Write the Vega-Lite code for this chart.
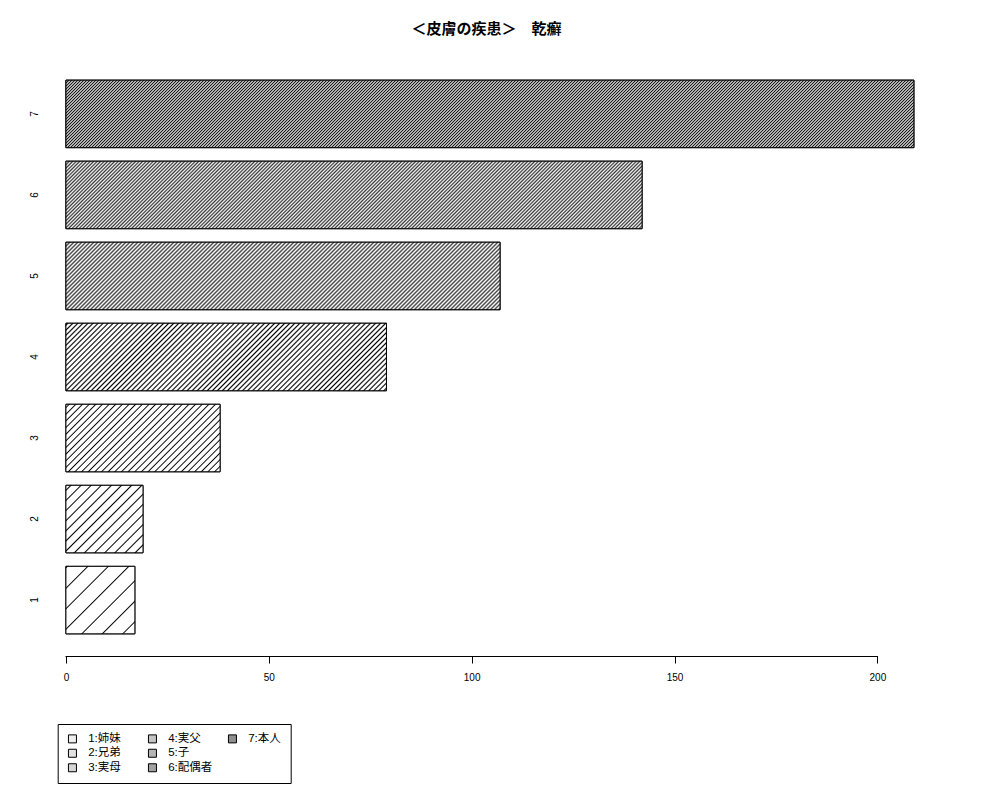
{
  "$schema": "https://vega.github.io/schema/vega-lite/v6.json",
  "autosize": {"type": "none"},
  "padding": {"left": 44, "top": 58, "right": 52, "bottom": 144},
  "width": 904,
  "height": 598,
  "background": "white",
  "title": {
    "text": "＜皮膚の疾患＞　乾癬",
    "font": "Noto Sans CJK JP",
    "fontSize": 15,
    "fontWeight": "bold",
    "color": "black",
    "anchor": "middle",
    "dx": -9.5,
    "offset": 21.5
  },
  "data": {
    "values": [
      {"n": 1, "label": "1:姉妹", "v": 17},
      {"n": 2, "label": "2:兄弟", "v": 19},
      {"n": 3, "label": "3:実母", "v": 38},
      {"n": 4, "label": "4:実父", "v": 79},
      {"n": 5, "label": "5:子", "v": 107},
      {"n": 6, "label": "6:配偶者", "v": 142},
      {"n": 7, "label": "7:本人", "v": 209}
    ]
  },
  "encoding": {
    "y": {
      "field": "n",
      "type": "ordinal",
      "sort": "descending",
      "scale": {"paddingInner": 0.1667, "paddingOuter": 0.2733},
      "axis": {
        "title": null,
        "domain": false,
        "ticks": false,
        "tickSize": 0,
        "grid": false,
        "labelAngle": -90,
        "labelAlign": "center",
        "labelBaseline": "middle",
        "labelPadding": 9.5,
        "labelFont": "Liberation Sans",
        "labelFontSize": 10,
        "labelColor": "black"
      }
    },
    "x": {
      "field": "v",
      "type": "quantitative",
      "scale": {"domain": [-5.4, 217.4], "nice": false, "zero": false},
      "axis": {
        "title": null,
        "values": [0, 50, 100, 150, 200],
        "domain": false,
        "grid": false,
        "tickSize": 7,
        "tickColor": "black",
        "tickWidth": 1,
        "labelFlush": false,
        "labelFont": "Liberation Sans",
        "labelFontSize": 10,
        "labelColor": "black",
        "labelPadding": 9.5
      }
    }
  },
  "layer": [
    {
      "mark": {"type": "bar", "strokeWidth": 1},
      "encoding": {
        "fill": {
          "field": "label",
          "type": "nominal",
          "scale": {
            "domain": ["1:姉妹", "2:兄弟", "3:実母", "4:実父", "5:子", "6:配偶者", "7:本人", " "],
            "range": ["#eeeeee", "#e2e2e2", "#d6d6d6", "#c4c4c4", "#b4b4b4", "#a2a2a2", "#8e8e8e", "transparent"]
          },
          "legend": {"title": null, "orient": "none", "legendX": 13.7, "legendY": 666, "direction": "vertical", "columns": 3, "gridAlign": "all", "columnPadding": 13, "rowPadding": 1.5, "padding": 9, "strokeColor": "black", "symbolType": "square", "symbolSize": 64, "symbolStrokeWidth": 1, "labelFont": "Liberation Sans, Noto Sans CJK JP", "labelFontSize": 11.5, "labelColor": "black", "labelOffset": 10, "labelLimit": 0}
        },
        "stroke": {
          "field": "label",
          "type": "nominal",
          "scale": {
            "domain": ["1:姉妹", "2:兄弟", "3:実母", "4:実父", "5:子", "6:配偶者", "7:本人", " "],
            "range": ["black", "black", "black", "black", "black", "black", "black", "transparent"]
          },
          "legend": {"title": null, "orient": "none", "legendX": 13.7, "legendY": 666, "direction": "vertical", "columns": 3, "gridAlign": "all", "columnPadding": 13, "rowPadding": 1.5, "padding": 9, "strokeColor": "black", "symbolType": "square", "symbolSize": 64, "symbolStrokeWidth": 1, "labelFont": "Liberation Sans, Noto Sans CJK JP", "labelFontSize": 11.5, "labelColor": "black", "labelOffset": 10, "labelLimit": 0}
        }
      }
    },
    {
      "transform": [{"filter": "datum.n == 1"}],
      "mark": {"type": "bar", "stroke": "black", "strokeWidth": 1, "fill": {"gradient": "linear", "x1": 0, "y1": 0, "x2": 1.0106, "y2": 0.9892, "stops": [
        {"offset":0.001,"color":"#fff"},{"offset":0.011,"color":"#000"},{"offset":0.021,"color":"#fff"},
        {"offset":0.151,"color":"#fff"},{"offset":0.161,"color":"#000"},{"offset":0.171,"color":"#fff"},
        {"offset":0.301,"color":"#fff"},{"offset":0.311,"color":"#000"},{"offset":0.321,"color":"#fff"},
        {"offset":0.451,"color":"#fff"},{"offset":0.461,"color":"#000"},{"offset":0.471,"color":"#fff"},
        {"offset":0.601,"color":"#fff"},{"offset":0.611,"color":"#000"},{"offset":0.621,"color":"#fff"},
        {"offset":0.751,"color":"#fff"},{"offset":0.761,"color":"#000"},{"offset":0.771,"color":"#fff"},
        {"offset":0.901,"color":"#fff"},{"offset":0.911,"color":"#000"},{"offset":0.921,"color":"#fff"}
      ]}}
    },
    {
      "transform": [{"filter": "datum.n == 2"}],
      "mark": {"type": "bar", "stroke": "black", "strokeWidth": 1, "fill": {"gradient": "linear", "x1": 0, "y1": 0, "x2": 1.0615, "y2": 0.9298, "stops": [
        {"offset":0.025,"color":"#fff"},{"offset":0.035,"color":"#000"},{"offset":0.045,"color":"#fff"},
        {"offset":0.095,"color":"#fff"},{"offset":0.105,"color":"#000"},{"offset":0.115,"color":"#fff"},
        {"offset":0.165,"color":"#fff"},{"offset":0.175,"color":"#000"},{"offset":0.185,"color":"#fff"},
        {"offset":0.235,"color":"#fff"},{"offset":0.245,"color":"#000"},{"offset":0.255,"color":"#fff"},
        {"offset":0.305,"color":"#fff"},{"offset":0.315,"color":"#000"},{"offset":0.325,"color":"#fff"},
        {"offset":0.375,"color":"#fff"},{"offset":0.385,"color":"#000"},{"offset":0.395,"color":"#fff"},
        {"offset":0.445,"color":"#fff"},{"offset":0.455,"color":"#000"},{"offset":0.465,"color":"#fff"},
        {"offset":0.515,"color":"#fff"},{"offset":0.525,"color":"#000"},{"offset":0.535,"color":"#fff"},
        {"offset":0.585,"color":"#fff"},{"offset":0.595,"color":"#000"},{"offset":0.605,"color":"#fff"},
        {"offset":0.655,"color":"#fff"},{"offset":0.665,"color":"#000"},{"offset":0.675,"color":"#fff"},
        {"offset":0.725,"color":"#fff"},{"offset":0.735,"color":"#000"},{"offset":0.745,"color":"#fff"},
        {"offset":0.795,"color":"#fff"},{"offset":0.805,"color":"#000"},{"offset":0.815,"color":"#fff"},
        {"offset":0.865,"color":"#fff"},{"offset":0.875,"color":"#000"},{"offset":0.885,"color":"#fff"},
        {"offset":0.935,"color":"#fff"},{"offset":0.945,"color":"#000"},{"offset":0.955,"color":"#fff"}
      ]}}
    },
    {
      "transform": [{"filter": "datum.n == 3"}],
      "mark": {"type": "bar", "stroke": "black", "strokeWidth": 1, "fill": {"gradient": "linear", "x1": 0, "y1": 0, "x2": 1.2065, "y2": 0.5284, "stops": [
        {"offset":0.009,"color":"#fff"},{"offset":0.015,"color":"#000"},{"offset":0.021,"color":"#fff"},
        {"offset":0.039,"color":"#fff"},{"offset":0.045,"color":"#000"},{"offset":0.051,"color":"#fff"},
        {"offset":0.069,"color":"#fff"},{"offset":0.075,"color":"#000"},{"offset":0.081,"color":"#fff"},
        {"offset":0.099,"color":"#fff"},{"offset":0.105,"color":"#000"},{"offset":0.111,"color":"#fff"},
        {"offset":0.129,"color":"#fff"},{"offset":0.135,"color":"#000"},{"offset":0.141,"color":"#fff"},
        {"offset":0.159,"color":"#fff"},{"offset":0.165,"color":"#000"},{"offset":0.171,"color":"#fff"},
        {"offset":0.189,"color":"#fff"},{"offset":0.195,"color":"#000"},{"offset":0.201,"color":"#fff"},
        {"offset":0.219,"color":"#fff"},{"offset":0.225,"color":"#000"},{"offset":0.231,"color":"#fff"},
        {"offset":0.249,"color":"#fff"},{"offset":0.255,"color":"#000"},{"offset":0.261,"color":"#fff"},
        {"offset":0.279,"color":"#fff"},{"offset":0.285,"color":"#000"},{"offset":0.291,"color":"#fff"},
        {"offset":0.309,"color":"#fff"},{"offset":0.315,"color":"#000"},{"offset":0.321,"color":"#fff"},
        {"offset":0.339,"color":"#fff"},{"offset":0.345,"color":"#000"},{"offset":0.351,"color":"#fff"},
        {"offset":0.369,"color":"#fff"},{"offset":0.375,"color":"#000"},{"offset":0.381,"color":"#fff"},
        {"offset":0.399,"color":"#fff"},{"offset":0.405,"color":"#000"},{"offset":0.411,"color":"#fff"},
        {"offset":0.429,"color":"#fff"},{"offset":0.435,"color":"#000"},{"offset":0.441,"color":"#fff"},
        {"offset":0.459,"color":"#fff"},{"offset":0.465,"color":"#000"},{"offset":0.471,"color":"#fff"},
        {"offset":0.489,"color":"#fff"},{"offset":0.495,"color":"#000"},{"offset":0.501,"color":"#fff"},
        {"offset":0.519,"color":"#fff"},{"offset":0.525,"color":"#000"},{"offset":0.531,"color":"#fff"},
        {"offset":0.549,"color":"#fff"},{"offset":0.555,"color":"#000"},{"offset":0.561,"color":"#fff"},
        {"offset":0.579,"color":"#fff"},{"offset":0.585,"color":"#000"},{"offset":0.591,"color":"#fff"},
        {"offset":0.609,"color":"#fff"},{"offset":0.615,"color":"#000"},{"offset":0.621,"color":"#fff"},
        {"offset":0.639,"color":"#fff"},{"offset":0.645,"color":"#000"},{"offset":0.651,"color":"#fff"},
        {"offset":0.669,"color":"#fff"},{"offset":0.675,"color":"#000"},{"offset":0.681,"color":"#fff"},
        {"offset":0.699,"color":"#fff"},{"offset":0.705,"color":"#000"},{"offset":0.711,"color":"#fff"},
        {"offset":0.729,"color":"#fff"},{"offset":0.735,"color":"#000"},{"offset":0.741,"color":"#fff"},
        {"offset":0.759,"color":"#fff"},{"offset":0.765,"color":"#000"},{"offset":0.771,"color":"#fff"},
        {"offset":0.789,"color":"#fff"},{"offset":0.795,"color":"#000"},{"offset":0.801,"color":"#fff"},
        {"offset":0.819,"color":"#fff"},{"offset":0.825,"color":"#000"},{"offset":0.831,"color":"#fff"},
        {"offset":0.849,"color":"#fff"},{"offset":0.855,"color":"#000"},{"offset":0.861,"color":"#fff"},
        {"offset":0.879,"color":"#fff"},{"offset":0.885,"color":"#000"},{"offset":0.891,"color":"#fff"},
        {"offset":0.909,"color":"#fff"},{"offset":0.915,"color":"#000"},{"offset":0.921,"color":"#fff"},
        {"offset":0.939,"color":"#fff"},{"offset":0.945,"color":"#000"},{"offset":0.951,"color":"#fff"},
        {"offset":0.969,"color":"#fff"},{"offset":0.975,"color":"#000"},{"offset":0.981,"color":"#fff"}
      ]}}
    },
    {
      "transform": [{"filter": "datum.n == 4"}],
      "mark": {"type": "bar", "stroke": "black", "strokeWidth": 1, "fill": {"gradient": "linear", "x1": 0, "y1": 0, "x2": 1.1592, "y2": 0.2442, "stops": [
        {"offset":0.001,"color":"#fff"},{"offset":0.005,"color":"#000"},{"offset":0.009,"color":"#fff"},
        {"offset":0.014,"color":"#fff"},{"offset":0.018,"color":"#000"},{"offset":0.022,"color":"#fff"},
        {"offset":0.027,"color":"#fff"},{"offset":0.031,"color":"#000"},{"offset":0.035,"color":"#fff"},
        {"offset":0.040,"color":"#fff"},{"offset":0.044,"color":"#000"},{"offset":0.048,"color":"#fff"},
        {"offset":0.053,"color":"#fff"},{"offset":0.057,"color":"#000"},{"offset":0.061,"color":"#fff"},
        {"offset":0.066,"color":"#fff"},{"offset":0.070,"color":"#000"},{"offset":0.074,"color":"#fff"},
        {"offset":0.079,"color":"#fff"},{"offset":0.083,"color":"#000"},{"offset":0.087,"color":"#fff"},
        {"offset":0.092,"color":"#fff"},{"offset":0.096,"color":"#000"},{"offset":0.100,"color":"#fff"},
        {"offset":0.105,"color":"#fff"},{"offset":0.109,"color":"#000"},{"offset":0.113,"color":"#fff"},
        {"offset":0.118,"color":"#fff"},{"offset":0.122,"color":"#000"},{"offset":0.126,"color":"#fff"},
        {"offset":0.131,"color":"#fff"},{"offset":0.135,"color":"#000"},{"offset":0.139,"color":"#fff"},
        {"offset":0.144,"color":"#fff"},{"offset":0.148,"color":"#000"},{"offset":0.152,"color":"#fff"},
        {"offset":0.157,"color":"#fff"},{"offset":0.161,"color":"#000"},{"offset":0.165,"color":"#fff"},
        {"offset":0.170,"color":"#fff"},{"offset":0.174,"color":"#000"},{"offset":0.178,"color":"#fff"},
        {"offset":0.183,"color":"#fff"},{"offset":0.187,"color":"#000"},{"offset":0.191,"color":"#fff"},
        {"offset":0.196,"color":"#fff"},{"offset":0.200,"color":"#000"},{"offset":0.204,"color":"#fff"},
        {"offset":0.209,"color":"#fff"},{"offset":0.213,"color":"#000"},{"offset":0.217,"color":"#fff"},
        {"offset":0.222,"color":"#fff"},{"offset":0.226,"color":"#000"},{"offset":0.230,"color":"#fff"},
        {"offset":0.235,"color":"#fff"},{"offset":0.239,"color":"#000"},{"offset":0.243,"color":"#fff"},
        {"offset":0.248,"color":"#fff"},{"offset":0.252,"color":"#000"},{"offset":0.256,"color":"#fff"},
        {"offset":0.261,"color":"#fff"},{"offset":0.265,"color":"#000"},{"offset":0.269,"color":"#fff"},
        {"offset":0.274,"color":"#fff"},{"offset":0.278,"color":"#000"},{"offset":0.282,"color":"#fff"},
        {"offset":0.287,"color":"#fff"},{"offset":0.291,"color":"#000"},{"offset":0.295,"color":"#fff"},
        {"offset":0.300,"color":"#fff"},{"offset":0.304,"color":"#000"},{"offset":0.308,"color":"#fff"},
        {"offset":0.313,"color":"#fff"},{"offset":0.317,"color":"#000"},{"offset":0.321,"color":"#fff"},
        {"offset":0.326,"color":"#fff"},{"offset":0.330,"color":"#000"},{"offset":0.334,"color":"#fff"},
        {"offset":0.339,"color":"#fff"},{"offset":0.343,"color":"#000"},{"offset":0.347,"color":"#fff"},
        {"offset":0.352,"color":"#fff"},{"offset":0.356,"color":"#000"},{"offset":0.360,"color":"#fff"},
        {"offset":0.365,"color":"#fff"},{"offset":0.369,"color":"#000"},{"offset":0.373,"color":"#fff"},
        {"offset":0.378,"color":"#fff"},{"offset":0.382,"color":"#000"},{"offset":0.386,"color":"#fff"},
        {"offset":0.391,"color":"#fff"},{"offset":0.395,"color":"#000"},{"offset":0.399,"color":"#fff"},
        {"offset":0.404,"color":"#fff"},{"offset":0.408,"color":"#000"},{"offset":0.412,"color":"#fff"},
        {"offset":0.417,"color":"#fff"},{"offset":0.421,"color":"#000"},{"offset":0.425,"color":"#fff"},
        {"offset":0.430,"color":"#fff"},{"offset":0.434,"color":"#000"},{"offset":0.438,"color":"#fff"},
        {"offset":0.443,"color":"#fff"},{"offset":0.447,"color":"#000"},{"offset":0.451,"color":"#fff"},
        {"offset":0.456,"color":"#fff"},{"offset":0.460,"color":"#000"},{"offset":0.464,"color":"#fff"},
        {"offset":0.469,"color":"#fff"},{"offset":0.473,"color":"#000"},{"offset":0.477,"color":"#fff"},
        {"offset":0.482,"color":"#fff"},{"offset":0.486,"color":"#000"},{"offset":0.490,"color":"#fff"},
        {"offset":0.495,"color":"#fff"},{"offset":0.499,"color":"#000"},{"offset":0.503,"color":"#fff"},
        {"offset":0.508,"color":"#fff"},{"offset":0.512,"color":"#000"},{"offset":0.516,"color":"#fff"},
        {"offset":0.521,"color":"#fff"},{"offset":0.525,"color":"#000"},{"offset":0.529,"color":"#fff"},
        {"offset":0.534,"color":"#fff"},{"offset":0.538,"color":"#000"},{"offset":0.542,"color":"#fff"},
        {"offset":0.547,"color":"#fff"},{"offset":0.551,"color":"#000"},{"offset":0.555,"color":"#fff"},
        {"offset":0.560,"color":"#fff"},{"offset":0.564,"color":"#000"},{"offset":0.568,"color":"#fff"},
        {"offset":0.573,"color":"#fff"},{"offset":0.577,"color":"#000"},{"offset":0.581,"color":"#fff"},
        {"offset":0.586,"color":"#fff"},{"offset":0.590,"color":"#000"},{"offset":0.594,"color":"#fff"},
        {"offset":0.599,"color":"#fff"},{"offset":0.603,"color":"#000"},{"offset":0.607,"color":"#fff"},
        {"offset":0.612,"color":"#fff"},{"offset":0.616,"color":"#000"},{"offset":0.620,"color":"#fff"},
        {"offset":0.625,"color":"#fff"},{"offset":0.629,"color":"#000"},{"offset":0.633,"color":"#fff"},
        {"offset":0.638,"color":"#fff"},{"offset":0.642,"color":"#000"},{"offset":0.646,"color":"#fff"},
        {"offset":0.651,"color":"#fff"},{"offset":0.655,"color":"#000"},{"offset":0.659,"color":"#fff"},
        {"offset":0.664,"color":"#fff"},{"offset":0.668,"color":"#000"},{"offset":0.672,"color":"#fff"},
        {"offset":0.677,"color":"#fff"},{"offset":0.681,"color":"#000"},{"offset":0.685,"color":"#fff"},
        {"offset":0.690,"color":"#fff"},{"offset":0.694,"color":"#000"},{"offset":0.698,"color":"#fff"},
        {"offset":0.703,"color":"#fff"},{"offset":0.707,"color":"#000"},{"offset":0.711,"color":"#fff"},
        {"offset":0.716,"color":"#fff"},{"offset":0.720,"color":"#000"},{"offset":0.724,"color":"#fff"},
        {"offset":0.729,"color":"#fff"},{"offset":0.733,"color":"#000"},{"offset":0.737,"color":"#fff"},
        {"offset":0.742,"color":"#fff"},{"offset":0.746,"color":"#000"},{"offset":0.750,"color":"#fff"},
        {"offset":0.755,"color":"#fff"},{"offset":0.759,"color":"#000"},{"offset":0.763,"color":"#fff"},
        {"offset":0.768,"color":"#fff"},{"offset":0.772,"color":"#000"},{"offset":0.776,"color":"#fff"},
        {"offset":0.781,"color":"#fff"},{"offset":0.785,"color":"#000"},{"offset":0.789,"color":"#fff"},
        {"offset":0.794,"color":"#fff"},{"offset":0.798,"color":"#000"},{"offset":0.802,"color":"#fff"},
        {"offset":0.807,"color":"#fff"},{"offset":0.811,"color":"#000"},{"offset":0.815,"color":"#fff"},
        {"offset":0.820,"color":"#fff"},{"offset":0.824,"color":"#000"},{"offset":0.828,"color":"#fff"},
        {"offset":0.833,"color":"#fff"},{"offset":0.837,"color":"#000"},{"offset":0.841,"color":"#fff"},
        {"offset":0.846,"color":"#fff"},{"offset":0.850,"color":"#000"},{"offset":0.854,"color":"#fff"},
        {"offset":0.859,"color":"#fff"},{"offset":0.863,"color":"#000"},{"offset":0.867,"color":"#fff"},
        {"offset":0.872,"color":"#fff"},{"offset":0.876,"color":"#000"},{"offset":0.880,"color":"#fff"},
        {"offset":0.885,"color":"#fff"},{"offset":0.889,"color":"#000"},{"offset":0.893,"color":"#fff"},
        {"offset":0.898,"color":"#fff"},{"offset":0.902,"color":"#000"},{"offset":0.906,"color":"#fff"},
        {"offset":0.911,"color":"#fff"},{"offset":0.915,"color":"#000"},{"offset":0.919,"color":"#fff"},
        {"offset":0.924,"color":"#fff"},{"offset":0.928,"color":"#000"},{"offset":0.932,"color":"#fff"},
        {"offset":0.937,"color":"#fff"},{"offset":0.941,"color":"#000"},{"offset":0.945,"color":"#fff"},
        {"offset":0.950,"color":"#fff"},{"offset":0.954,"color":"#000"},{"offset":0.958,"color":"#fff"},
        {"offset":0.963,"color":"#fff"},{"offset":0.967,"color":"#000"},{"offset":0.971,"color":"#fff"},
        {"offset":0.976,"color":"#fff"},{"offset":0.980,"color":"#000"},{"offset":0.984,"color":"#fff"},
        {"offset":0.989,"color":"#fff"},{"offset":0.993,"color":"#000"},{"offset":0.997,"color":"#fff"}
      ]}}
    },
    {
      "transform": [{"filter": "datum.n == 5"}],
      "mark": {"type": "bar", "stroke": "black", "strokeWidth": 1, "fill": {"gradient": "linear", "x1": 0, "y1": 0, "x2": 1.12448, "y2": 0.174894, "stops": [
        {"offset":0,"color":"#444"},{"offset":0.004,"color":"#fff"},{"offset":0.008,"color":"#444"},{"offset":0.012,"color":"#fff"},{"offset":0.016,"color":"#444"},{"offset":0.02,"color":"#fff"},{"offset":0.024,"color":"#444"},{"offset":0.028,"color":"#fff"},{"offset":0.032,"color":"#444"},{"offset":0.036,"color":"#fff"},
        {"offset":0.04,"color":"#444"},{"offset":0.044,"color":"#fff"},{"offset":0.048,"color":"#444"},{"offset":0.052,"color":"#fff"},{"offset":0.056,"color":"#444"},{"offset":0.06,"color":"#fff"},{"offset":0.064,"color":"#444"},{"offset":0.068,"color":"#fff"},{"offset":0.072,"color":"#444"},{"offset":0.076,"color":"#fff"},
        {"offset":0.08,"color":"#444"},{"offset":0.084,"color":"#fff"},{"offset":0.088,"color":"#444"},{"offset":0.092,"color":"#fff"},{"offset":0.096,"color":"#444"},{"offset":0.1,"color":"#fff"},{"offset":0.104,"color":"#444"},{"offset":0.108,"color":"#fff"},{"offset":0.112,"color":"#444"},{"offset":0.116,"color":"#fff"},
        {"offset":0.12,"color":"#444"},{"offset":0.124,"color":"#fff"},{"offset":0.128,"color":"#444"},{"offset":0.132,"color":"#fff"},{"offset":0.136,"color":"#444"},{"offset":0.14,"color":"#fff"},{"offset":0.144,"color":"#444"},{"offset":0.148,"color":"#fff"},{"offset":0.152,"color":"#444"},{"offset":0.156,"color":"#fff"},
        {"offset":0.16,"color":"#444"},{"offset":0.164,"color":"#fff"},{"offset":0.168,"color":"#444"},{"offset":0.172,"color":"#fff"},{"offset":0.176,"color":"#444"},{"offset":0.18,"color":"#fff"},{"offset":0.184,"color":"#444"},{"offset":0.188,"color":"#fff"},{"offset":0.192,"color":"#444"},{"offset":0.196,"color":"#fff"},
        {"offset":0.2,"color":"#444"},{"offset":0.204,"color":"#fff"},{"offset":0.208,"color":"#444"},{"offset":0.212,"color":"#fff"},{"offset":0.216,"color":"#444"},{"offset":0.22,"color":"#fff"},{"offset":0.224,"color":"#444"},{"offset":0.228,"color":"#fff"},{"offset":0.232,"color":"#444"},{"offset":0.236,"color":"#fff"},
        {"offset":0.24,"color":"#444"},{"offset":0.244,"color":"#fff"},{"offset":0.248,"color":"#444"},{"offset":0.252,"color":"#fff"},{"offset":0.256,"color":"#444"},{"offset":0.26,"color":"#fff"},{"offset":0.264,"color":"#444"},{"offset":0.268,"color":"#fff"},{"offset":0.272,"color":"#444"},{"offset":0.276,"color":"#fff"},
        {"offset":0.28,"color":"#444"},{"offset":0.284,"color":"#fff"},{"offset":0.288,"color":"#444"},{"offset":0.292,"color":"#fff"},{"offset":0.296,"color":"#444"},{"offset":0.3,"color":"#fff"},{"offset":0.304,"color":"#444"},{"offset":0.308,"color":"#fff"},{"offset":0.312,"color":"#444"},{"offset":0.316,"color":"#fff"},
        {"offset":0.32,"color":"#444"},{"offset":0.324,"color":"#fff"},{"offset":0.328,"color":"#444"},{"offset":0.332,"color":"#fff"},{"offset":0.336,"color":"#444"},{"offset":0.34,"color":"#fff"},{"offset":0.344,"color":"#444"},{"offset":0.348,"color":"#fff"},{"offset":0.352,"color":"#444"},{"offset":0.356,"color":"#fff"},
        {"offset":0.36,"color":"#444"},{"offset":0.364,"color":"#fff"},{"offset":0.368,"color":"#444"},{"offset":0.372,"color":"#fff"},{"offset":0.376,"color":"#444"},{"offset":0.38,"color":"#fff"},{"offset":0.384,"color":"#444"},{"offset":0.388,"color":"#fff"},{"offset":0.392,"color":"#444"},{"offset":0.396,"color":"#fff"},
        {"offset":0.4,"color":"#444"},{"offset":0.404,"color":"#fff"},{"offset":0.408,"color":"#444"},{"offset":0.412,"color":"#fff"},{"offset":0.416,"color":"#444"},{"offset":0.42,"color":"#fff"},{"offset":0.424,"color":"#444"},{"offset":0.428,"color":"#fff"},{"offset":0.432,"color":"#444"},{"offset":0.436,"color":"#fff"},
        {"offset":0.44,"color":"#444"},{"offset":0.444,"color":"#fff"},{"offset":0.448,"color":"#444"},{"offset":0.452,"color":"#fff"},{"offset":0.456,"color":"#444"},{"offset":0.46,"color":"#fff"},{"offset":0.464,"color":"#444"},{"offset":0.468,"color":"#fff"},{"offset":0.472,"color":"#444"},{"offset":0.476,"color":"#fff"},
        {"offset":0.48,"color":"#444"},{"offset":0.484,"color":"#fff"},{"offset":0.488,"color":"#444"},{"offset":0.492,"color":"#fff"},{"offset":0.496,"color":"#444"},{"offset":0.5,"color":"#fff"},{"offset":0.504,"color":"#444"},{"offset":0.508,"color":"#fff"},{"offset":0.512,"color":"#444"},{"offset":0.516,"color":"#fff"},
        {"offset":0.52,"color":"#444"},{"offset":0.524,"color":"#fff"},{"offset":0.528,"color":"#444"},{"offset":0.532,"color":"#fff"},{"offset":0.536,"color":"#444"},{"offset":0.54,"color":"#fff"},{"offset":0.544,"color":"#444"},{"offset":0.548,"color":"#fff"},{"offset":0.552,"color":"#444"},{"offset":0.556,"color":"#fff"},
        {"offset":0.56,"color":"#444"},{"offset":0.564,"color":"#fff"},{"offset":0.568,"color":"#444"},{"offset":0.572,"color":"#fff"},{"offset":0.576,"color":"#444"},{"offset":0.58,"color":"#fff"},{"offset":0.584,"color":"#444"},{"offset":0.588,"color":"#fff"},{"offset":0.592,"color":"#444"},{"offset":0.596,"color":"#fff"},
        {"offset":0.6,"color":"#444"},{"offset":0.604,"color":"#fff"},{"offset":0.608,"color":"#444"},{"offset":0.612,"color":"#fff"},{"offset":0.616,"color":"#444"},{"offset":0.62,"color":"#fff"},{"offset":0.624,"color":"#444"},{"offset":0.628,"color":"#fff"},{"offset":0.632,"color":"#444"},{"offset":0.636,"color":"#fff"},
        {"offset":0.64,"color":"#444"},{"offset":0.644,"color":"#fff"},{"offset":0.648,"color":"#444"},{"offset":0.652,"color":"#fff"},{"offset":0.656,"color":"#444"},{"offset":0.66,"color":"#fff"},{"offset":0.664,"color":"#444"},{"offset":0.668,"color":"#fff"},{"offset":0.672,"color":"#444"},{"offset":0.676,"color":"#fff"},
        {"offset":0.68,"color":"#444"},{"offset":0.684,"color":"#fff"},{"offset":0.688,"color":"#444"},{"offset":0.692,"color":"#fff"},{"offset":0.696,"color":"#444"},{"offset":0.7,"color":"#fff"},{"offset":0.704,"color":"#444"},{"offset":0.708,"color":"#fff"},{"offset":0.712,"color":"#444"},{"offset":0.716,"color":"#fff"},
        {"offset":0.72,"color":"#444"},{"offset":0.724,"color":"#fff"},{"offset":0.728,"color":"#444"},{"offset":0.732,"color":"#fff"},{"offset":0.736,"color":"#444"},{"offset":0.74,"color":"#fff"},{"offset":0.744,"color":"#444"},{"offset":0.748,"color":"#fff"},{"offset":0.752,"color":"#444"},{"offset":0.756,"color":"#fff"},
        {"offset":0.76,"color":"#444"},{"offset":0.764,"color":"#fff"},{"offset":0.768,"color":"#444"},{"offset":0.772,"color":"#fff"},{"offset":0.776,"color":"#444"},{"offset":0.78,"color":"#fff"},{"offset":0.784,"color":"#444"},{"offset":0.788,"color":"#fff"},{"offset":0.792,"color":"#444"},{"offset":0.796,"color":"#fff"},
        {"offset":0.8,"color":"#444"},{"offset":0.804,"color":"#fff"},{"offset":0.808,"color":"#444"},{"offset":0.812,"color":"#fff"},{"offset":0.816,"color":"#444"},{"offset":0.82,"color":"#fff"},{"offset":0.824,"color":"#444"},{"offset":0.828,"color":"#fff"},{"offset":0.832,"color":"#444"},{"offset":0.836,"color":"#fff"},
        {"offset":0.84,"color":"#444"},{"offset":0.844,"color":"#fff"},{"offset":0.848,"color":"#444"},{"offset":0.852,"color":"#fff"},{"offset":0.856,"color":"#444"},{"offset":0.86,"color":"#fff"},{"offset":0.864,"color":"#444"},{"offset":0.868,"color":"#fff"},{"offset":0.872,"color":"#444"},{"offset":0.876,"color":"#fff"},
        {"offset":0.88,"color":"#444"},{"offset":0.884,"color":"#fff"},{"offset":0.888,"color":"#444"},{"offset":0.892,"color":"#fff"},{"offset":0.896,"color":"#444"},{"offset":0.9,"color":"#fff"},{"offset":0.904,"color":"#444"},{"offset":0.908,"color":"#fff"},{"offset":0.912,"color":"#444"},{"offset":0.916,"color":"#fff"},
        {"offset":0.92,"color":"#444"},{"offset":0.924,"color":"#fff"},{"offset":0.928,"color":"#444"},{"offset":0.932,"color":"#fff"},{"offset":0.936,"color":"#444"},{"offset":0.94,"color":"#fff"},{"offset":0.944,"color":"#444"},{"offset":0.948,"color":"#fff"},{"offset":0.952,"color":"#444"},{"offset":0.956,"color":"#fff"},
        {"offset":0.96,"color":"#444"},{"offset":0.964,"color":"#fff"},{"offset":0.968,"color":"#444"},{"offset":0.972,"color":"#fff"},{"offset":0.976,"color":"#444"},{"offset":0.98,"color":"#fff"},{"offset":0.984,"color":"#444"},{"offset":0.988,"color":"#fff"},{"offset":0.992,"color":"#444"},{"offset":0.996,"color":"#fff"},
        {"offset":1,"color":"#444"}
      ]}}
    },
    {
      "transform": [{"filter": "datum.n == 6"}],
      "mark": {"type": "bar", "stroke": "black", "strokeWidth": 1, "fill": {"gradient": "linear", "x1": 0, "y1": 0, "x2": 1.19848, "y2": 0.14046, "stops": [
        {"offset":0,"color":"#333"},{"offset":0.0025,"color":"#fff"},{"offset":0.005,"color":"#333"},{"offset":0.0075,"color":"#fff"},
        {"offset":0.01,"color":"#333"},{"offset":0.0125,"color":"#fff"},{"offset":0.015,"color":"#333"},{"offset":0.0175,"color":"#fff"},
        {"offset":0.02,"color":"#333"},{"offset":0.0225,"color":"#fff"},{"offset":0.025,"color":"#333"},{"offset":0.0275,"color":"#fff"},
        {"offset":0.03,"color":"#333"},{"offset":0.0325,"color":"#fff"},{"offset":0.035,"color":"#333"},{"offset":0.0375,"color":"#fff"},
        {"offset":0.04,"color":"#333"},{"offset":0.0425,"color":"#fff"},{"offset":0.045,"color":"#333"},{"offset":0.0475,"color":"#fff"},
        {"offset":0.05,"color":"#333"},{"offset":0.0525,"color":"#fff"},{"offset":0.055,"color":"#333"},{"offset":0.0575,"color":"#fff"},
        {"offset":0.06,"color":"#333"},{"offset":0.0625,"color":"#fff"},{"offset":0.065,"color":"#333"},{"offset":0.0675,"color":"#fff"},
        {"offset":0.07,"color":"#333"},{"offset":0.0725,"color":"#fff"},{"offset":0.075,"color":"#333"},{"offset":0.0775,"color":"#fff"},
        {"offset":0.08,"color":"#333"},{"offset":0.0825,"color":"#fff"},{"offset":0.085,"color":"#333"},{"offset":0.0875,"color":"#fff"},
        {"offset":0.09,"color":"#333"},{"offset":0.0925,"color":"#fff"},{"offset":0.095,"color":"#333"},{"offset":0.0975,"color":"#fff"},
        {"offset":0.1,"color":"#333"},{"offset":0.1025,"color":"#fff"},{"offset":0.105,"color":"#333"},{"offset":0.1075,"color":"#fff"},
        {"offset":0.11,"color":"#333"},{"offset":0.1125,"color":"#fff"},{"offset":0.115,"color":"#333"},{"offset":0.1175,"color":"#fff"},
        {"offset":0.12,"color":"#333"},{"offset":0.1225,"color":"#fff"},{"offset":0.125,"color":"#333"},{"offset":0.1275,"color":"#fff"},
        {"offset":0.13,"color":"#333"},{"offset":0.1325,"color":"#fff"},{"offset":0.135,"color":"#333"},{"offset":0.1375,"color":"#fff"},
        {"offset":0.14,"color":"#333"},{"offset":0.1425,"color":"#fff"},{"offset":0.145,"color":"#333"},{"offset":0.1475,"color":"#fff"},
        {"offset":0.15,"color":"#333"},{"offset":0.1525,"color":"#fff"},{"offset":0.155,"color":"#333"},{"offset":0.1575,"color":"#fff"},
        {"offset":0.16,"color":"#333"},{"offset":0.1625,"color":"#fff"},{"offset":0.165,"color":"#333"},{"offset":0.1675,"color":"#fff"},
        {"offset":0.17,"color":"#333"},{"offset":0.1725,"color":"#fff"},{"offset":0.175,"color":"#333"},{"offset":0.1775,"color":"#fff"},
        {"offset":0.18,"color":"#333"},{"offset":0.1825,"color":"#fff"},{"offset":0.185,"color":"#333"},{"offset":0.1875,"color":"#fff"},
        {"offset":0.19,"color":"#333"},{"offset":0.1925,"color":"#fff"},{"offset":0.195,"color":"#333"},{"offset":0.1975,"color":"#fff"},
        {"offset":0.2,"color":"#333"},{"offset":0.2025,"color":"#fff"},{"offset":0.205,"color":"#333"},{"offset":0.2075,"color":"#fff"},
        {"offset":0.21,"color":"#333"},{"offset":0.2125,"color":"#fff"},{"offset":0.215,"color":"#333"},{"offset":0.2175,"color":"#fff"},
        {"offset":0.22,"color":"#333"},{"offset":0.2225,"color":"#fff"},{"offset":0.225,"color":"#333"},{"offset":0.2275,"color":"#fff"},
        {"offset":0.23,"color":"#333"},{"offset":0.2325,"color":"#fff"},{"offset":0.235,"color":"#333"},{"offset":0.2375,"color":"#fff"},
        {"offset":0.24,"color":"#333"},{"offset":0.2425,"color":"#fff"},{"offset":0.245,"color":"#333"},{"offset":0.2475,"color":"#fff"},
        {"offset":0.25,"color":"#333"},{"offset":0.2525,"color":"#fff"},{"offset":0.255,"color":"#333"},{"offset":0.2575,"color":"#fff"},
        {"offset":0.26,"color":"#333"},{"offset":0.2625,"color":"#fff"},{"offset":0.265,"color":"#333"},{"offset":0.2675,"color":"#fff"},
        {"offset":0.27,"color":"#333"},{"offset":0.2725,"color":"#fff"},{"offset":0.275,"color":"#333"},{"offset":0.2775,"color":"#fff"},
        {"offset":0.28,"color":"#333"},{"offset":0.2825,"color":"#fff"},{"offset":0.285,"color":"#333"},{"offset":0.2875,"color":"#fff"},
        {"offset":0.29,"color":"#333"},{"offset":0.2925,"color":"#fff"},{"offset":0.295,"color":"#333"},{"offset":0.2975,"color":"#fff"},
        {"offset":0.3,"color":"#333"},{"offset":0.3025,"color":"#fff"},{"offset":0.305,"color":"#333"},{"offset":0.3075,"color":"#fff"},
        {"offset":0.31,"color":"#333"},{"offset":0.3125,"color":"#fff"},{"offset":0.315,"color":"#333"},{"offset":0.3175,"color":"#fff"},
        {"offset":0.32,"color":"#333"},{"offset":0.3225,"color":"#fff"},{"offset":0.325,"color":"#333"},{"offset":0.3275,"color":"#fff"},
        {"offset":0.33,"color":"#333"},{"offset":0.3325,"color":"#fff"},{"offset":0.335,"color":"#333"},{"offset":0.3375,"color":"#fff"},
        {"offset":0.34,"color":"#333"},{"offset":0.3425,"color":"#fff"},{"offset":0.345,"color":"#333"},{"offset":0.3475,"color":"#fff"},
        {"offset":0.35,"color":"#333"},{"offset":0.3525,"color":"#fff"},{"offset":0.355,"color":"#333"},{"offset":0.3575,"color":"#fff"},
        {"offset":0.36,"color":"#333"},{"offset":0.3625,"color":"#fff"},{"offset":0.365,"color":"#333"},{"offset":0.3675,"color":"#fff"},
        {"offset":0.37,"color":"#333"},{"offset":0.3725,"color":"#fff"},{"offset":0.375,"color":"#333"},{"offset":0.3775,"color":"#fff"},
        {"offset":0.38,"color":"#333"},{"offset":0.3825,"color":"#fff"},{"offset":0.385,"color":"#333"},{"offset":0.3875,"color":"#fff"},
        {"offset":0.39,"color":"#333"},{"offset":0.3925,"color":"#fff"},{"offset":0.395,"color":"#333"},{"offset":0.3975,"color":"#fff"},
        {"offset":0.4,"color":"#333"},{"offset":0.4025,"color":"#fff"},{"offset":0.405,"color":"#333"},{"offset":0.4075,"color":"#fff"},
        {"offset":0.41,"color":"#333"},{"offset":0.4125,"color":"#fff"},{"offset":0.415,"color":"#333"},{"offset":0.4175,"color":"#fff"},
        {"offset":0.42,"color":"#333"},{"offset":0.4225,"color":"#fff"},{"offset":0.425,"color":"#333"},{"offset":0.4275,"color":"#fff"},
        {"offset":0.43,"color":"#333"},{"offset":0.4325,"color":"#fff"},{"offset":0.435,"color":"#333"},{"offset":0.4375,"color":"#fff"},
        {"offset":0.44,"color":"#333"},{"offset":0.4425,"color":"#fff"},{"offset":0.445,"color":"#333"},{"offset":0.4475,"color":"#fff"},
        {"offset":0.45,"color":"#333"},{"offset":0.4525,"color":"#fff"},{"offset":0.455,"color":"#333"},{"offset":0.4575,"color":"#fff"},
        {"offset":0.46,"color":"#333"},{"offset":0.4625,"color":"#fff"},{"offset":0.465,"color":"#333"},{"offset":0.4675,"color":"#fff"},
        {"offset":0.47,"color":"#333"},{"offset":0.4725,"color":"#fff"},{"offset":0.475,"color":"#333"},{"offset":0.4775,"color":"#fff"},
        {"offset":0.48,"color":"#333"},{"offset":0.4825,"color":"#fff"},{"offset":0.485,"color":"#333"},{"offset":0.4875,"color":"#fff"},
        {"offset":0.49,"color":"#333"},{"offset":0.4925,"color":"#fff"},{"offset":0.495,"color":"#333"},{"offset":0.4975,"color":"#fff"},
        {"offset":0.5,"color":"#333"},{"offset":0.5025,"color":"#fff"},{"offset":0.505,"color":"#333"},{"offset":0.5075,"color":"#fff"},
        {"offset":0.51,"color":"#333"},{"offset":0.5125,"color":"#fff"},{"offset":0.515,"color":"#333"},{"offset":0.5175,"color":"#fff"},
        {"offset":0.52,"color":"#333"},{"offset":0.5225,"color":"#fff"},{"offset":0.525,"color":"#333"},{"offset":0.5275,"color":"#fff"},
        {"offset":0.53,"color":"#333"},{"offset":0.5325,"color":"#fff"},{"offset":0.535,"color":"#333"},{"offset":0.5375,"color":"#fff"},
        {"offset":0.54,"color":"#333"},{"offset":0.5425,"color":"#fff"},{"offset":0.545,"color":"#333"},{"offset":0.5475,"color":"#fff"},
        {"offset":0.55,"color":"#333"},{"offset":0.5525,"color":"#fff"},{"offset":0.555,"color":"#333"},{"offset":0.5575,"color":"#fff"},
        {"offset":0.56,"color":"#333"},{"offset":0.5625,"color":"#fff"},{"offset":0.565,"color":"#333"},{"offset":0.5675,"color":"#fff"},
        {"offset":0.57,"color":"#333"},{"offset":0.5725,"color":"#fff"},{"offset":0.575,"color":"#333"},{"offset":0.5775,"color":"#fff"},
        {"offset":0.58,"color":"#333"},{"offset":0.5825,"color":"#fff"},{"offset":0.585,"color":"#333"},{"offset":0.5875,"color":"#fff"},
        {"offset":0.59,"color":"#333"},{"offset":0.5925,"color":"#fff"},{"offset":0.595,"color":"#333"},{"offset":0.5975,"color":"#fff"},
        {"offset":0.6,"color":"#333"},{"offset":0.6025,"color":"#fff"},{"offset":0.605,"color":"#333"},{"offset":0.6075,"color":"#fff"},
        {"offset":0.61,"color":"#333"},{"offset":0.6125,"color":"#fff"},{"offset":0.615,"color":"#333"},{"offset":0.6175,"color":"#fff"},
        {"offset":0.62,"color":"#333"},{"offset":0.6225,"color":"#fff"},{"offset":0.625,"color":"#333"},{"offset":0.6275,"color":"#fff"},
        {"offset":0.63,"color":"#333"},{"offset":0.6325,"color":"#fff"},{"offset":0.635,"color":"#333"},{"offset":0.6375,"color":"#fff"},
        {"offset":0.64,"color":"#333"},{"offset":0.6425,"color":"#fff"},{"offset":0.645,"color":"#333"},{"offset":0.6475,"color":"#fff"},
        {"offset":0.65,"color":"#333"},{"offset":0.6525,"color":"#fff"},{"offset":0.655,"color":"#333"},{"offset":0.6575,"color":"#fff"},
        {"offset":0.66,"color":"#333"},{"offset":0.6625,"color":"#fff"},{"offset":0.665,"color":"#333"},{"offset":0.6675,"color":"#fff"},
        {"offset":0.67,"color":"#333"},{"offset":0.6725,"color":"#fff"},{"offset":0.675,"color":"#333"},{"offset":0.6775,"color":"#fff"},
        {"offset":0.68,"color":"#333"},{"offset":0.6825,"color":"#fff"},{"offset":0.685,"color":"#333"},{"offset":0.6875,"color":"#fff"},
        {"offset":0.69,"color":"#333"},{"offset":0.6925,"color":"#fff"},{"offset":0.695,"color":"#333"},{"offset":0.6975,"color":"#fff"},
        {"offset":0.7,"color":"#333"},{"offset":0.7025,"color":"#fff"},{"offset":0.705,"color":"#333"},{"offset":0.7075,"color":"#fff"},
        {"offset":0.71,"color":"#333"},{"offset":0.7125,"color":"#fff"},{"offset":0.715,"color":"#333"},{"offset":0.7175,"color":"#fff"},
        {"offset":0.72,"color":"#333"},{"offset":0.7225,"color":"#fff"},{"offset":0.725,"color":"#333"},{"offset":0.7275,"color":"#fff"},
        {"offset":0.73,"color":"#333"},{"offset":0.7325,"color":"#fff"},{"offset":0.735,"color":"#333"},{"offset":0.7375,"color":"#fff"},
        {"offset":0.74,"color":"#333"},{"offset":0.7425,"color":"#fff"},{"offset":0.745,"color":"#333"},{"offset":0.7475,"color":"#fff"},
        {"offset":0.75,"color":"#333"},{"offset":0.7525,"color":"#fff"},{"offset":0.755,"color":"#333"},{"offset":0.7575,"color":"#fff"},
        {"offset":0.76,"color":"#333"},{"offset":0.7625,"color":"#fff"},{"offset":0.765,"color":"#333"},{"offset":0.7675,"color":"#fff"},
        {"offset":0.77,"color":"#333"},{"offset":0.7725,"color":"#fff"},{"offset":0.775,"color":"#333"},{"offset":0.7775,"color":"#fff"},
        {"offset":0.78,"color":"#333"},{"offset":0.7825,"color":"#fff"},{"offset":0.785,"color":"#333"},{"offset":0.7875,"color":"#fff"},
        {"offset":0.79,"color":"#333"},{"offset":0.7925,"color":"#fff"},{"offset":0.795,"color":"#333"},{"offset":0.7975,"color":"#fff"},
        {"offset":0.8,"color":"#333"},{"offset":0.8025,"color":"#fff"},{"offset":0.805,"color":"#333"},{"offset":0.8075,"color":"#fff"},
        {"offset":0.81,"color":"#333"},{"offset":0.8125,"color":"#fff"},{"offset":0.815,"color":"#333"},{"offset":0.8175,"color":"#fff"},
        {"offset":0.82,"color":"#333"},{"offset":0.8225,"color":"#fff"},{"offset":0.825,"color":"#333"},{"offset":0.8275,"color":"#fff"},
        {"offset":0.83,"color":"#333"},{"offset":0.8325,"color":"#fff"},{"offset":0.835,"color":"#333"},{"offset":0.8375,"color":"#fff"},
        {"offset":0.84,"color":"#333"},{"offset":0.8425,"color":"#fff"},{"offset":0.845,"color":"#333"},{"offset":0.8475,"color":"#fff"},
        {"offset":0.85,"color":"#333"},{"offset":0.8525,"color":"#fff"},{"offset":0.855,"color":"#333"},{"offset":0.8575,"color":"#fff"},
        {"offset":0.86,"color":"#333"},{"offset":0.8625,"color":"#fff"},{"offset":0.865,"color":"#333"},{"offset":0.8675,"color":"#fff"},
        {"offset":0.87,"color":"#333"},{"offset":0.8725,"color":"#fff"},{"offset":0.875,"color":"#333"},{"offset":0.8775,"color":"#fff"},
        {"offset":0.88,"color":"#333"},{"offset":0.8825,"color":"#fff"},{"offset":0.885,"color":"#333"},{"offset":0.8875,"color":"#fff"},
        {"offset":0.89,"color":"#333"},{"offset":0.8925,"color":"#fff"},{"offset":0.895,"color":"#333"},{"offset":0.8975,"color":"#fff"},
        {"offset":0.9,"color":"#333"},{"offset":0.9025,"color":"#fff"},{"offset":0.905,"color":"#333"},{"offset":0.9075,"color":"#fff"},
        {"offset":0.91,"color":"#333"},{"offset":0.9125,"color":"#fff"},{"offset":0.915,"color":"#333"},{"offset":0.9175,"color":"#fff"},
        {"offset":0.92,"color":"#333"},{"offset":0.9225,"color":"#fff"},{"offset":0.925,"color":"#333"},{"offset":0.9275,"color":"#fff"}
      ]}}
    },
    {
      "transform": [{"filter": "datum.n == 7"}],
      "mark": {"type": "bar", "stroke": "black", "strokeWidth": 1, "fill": {"gradient": "linear", "x1": 0, "y1": 0, "x2": 1.09857, "y2": 0.087474, "stops": [
        {"offset":0,"color":"#111"},{"offset":0.0016,"color":"#fff"},{"offset":0.0032,"color":"#111"},{"offset":0.0048,"color":"#fff"},{"offset":0.0064,"color":"#111"},{"offset":0.008,"color":"#fff"},{"offset":0.0096,"color":"#111"},{"offset":0.0112,"color":"#fff"},{"offset":0.0128,"color":"#111"},{"offset":0.0144,"color":"#fff"},
        {"offset":0.016,"color":"#111"},{"offset":0.0176,"color":"#fff"},{"offset":0.0192,"color":"#111"},{"offset":0.0208,"color":"#fff"},{"offset":0.0224,"color":"#111"},{"offset":0.024,"color":"#fff"},{"offset":0.0256,"color":"#111"},{"offset":0.0272,"color":"#fff"},{"offset":0.0288,"color":"#111"},{"offset":0.0304,"color":"#fff"},
        {"offset":0.032,"color":"#111"},{"offset":0.0336,"color":"#fff"},{"offset":0.0352,"color":"#111"},{"offset":0.0368,"color":"#fff"},{"offset":0.0384,"color":"#111"},{"offset":0.04,"color":"#fff"},{"offset":0.0416,"color":"#111"},{"offset":0.0432,"color":"#fff"},{"offset":0.0448,"color":"#111"},{"offset":0.0464,"color":"#fff"},
        {"offset":0.048,"color":"#111"},{"offset":0.0496,"color":"#fff"},{"offset":0.0512,"color":"#111"},{"offset":0.0528,"color":"#fff"},{"offset":0.0544,"color":"#111"},{"offset":0.056,"color":"#fff"},{"offset":0.0576,"color":"#111"},{"offset":0.0592,"color":"#fff"},{"offset":0.0608,"color":"#111"},{"offset":0.0624,"color":"#fff"},
        {"offset":0.064,"color":"#111"},{"offset":0.0656,"color":"#fff"},{"offset":0.0672,"color":"#111"},{"offset":0.0688,"color":"#fff"},{"offset":0.0704,"color":"#111"},{"offset":0.072,"color":"#fff"},{"offset":0.0736,"color":"#111"},{"offset":0.0752,"color":"#fff"},{"offset":0.0768,"color":"#111"},{"offset":0.0784,"color":"#fff"},
        {"offset":0.08,"color":"#111"},{"offset":0.0816,"color":"#fff"},{"offset":0.0832,"color":"#111"},{"offset":0.0848,"color":"#fff"},{"offset":0.0864,"color":"#111"},{"offset":0.088,"color":"#fff"},{"offset":0.0896,"color":"#111"},{"offset":0.0912,"color":"#fff"},{"offset":0.0928,"color":"#111"},{"offset":0.0944,"color":"#fff"},
        {"offset":0.096,"color":"#111"},{"offset":0.0976,"color":"#fff"},{"offset":0.0992,"color":"#111"},{"offset":0.1008,"color":"#fff"},{"offset":0.1024,"color":"#111"},{"offset":0.104,"color":"#fff"},{"offset":0.1056,"color":"#111"},{"offset":0.1072,"color":"#fff"},{"offset":0.1088,"color":"#111"},{"offset":0.1104,"color":"#fff"},
        {"offset":0.112,"color":"#111"},{"offset":0.1136,"color":"#fff"},{"offset":0.1152,"color":"#111"},{"offset":0.1168,"color":"#fff"},{"offset":0.1184,"color":"#111"},{"offset":0.12,"color":"#fff"},{"offset":0.1216,"color":"#111"},{"offset":0.1232,"color":"#fff"},{"offset":0.1248,"color":"#111"},{"offset":0.1264,"color":"#fff"},
        {"offset":0.128,"color":"#111"},{"offset":0.1296,"color":"#fff"},{"offset":0.1312,"color":"#111"},{"offset":0.1328,"color":"#fff"},{"offset":0.1344,"color":"#111"},{"offset":0.136,"color":"#fff"},{"offset":0.1376,"color":"#111"},{"offset":0.1392,"color":"#fff"},{"offset":0.1408,"color":"#111"},{"offset":0.1424,"color":"#fff"},
        {"offset":0.144,"color":"#111"},{"offset":0.1456,"color":"#fff"},{"offset":0.1472,"color":"#111"},{"offset":0.1488,"color":"#fff"},{"offset":0.1504,"color":"#111"},{"offset":0.152,"color":"#fff"},{"offset":0.1536,"color":"#111"},{"offset":0.1552,"color":"#fff"},{"offset":0.1568,"color":"#111"},{"offset":0.1584,"color":"#fff"},
        {"offset":0.16,"color":"#111"},{"offset":0.1616,"color":"#fff"},{"offset":0.1632,"color":"#111"},{"offset":0.1648,"color":"#fff"},{"offset":0.1664,"color":"#111"},{"offset":0.168,"color":"#fff"},{"offset":0.1696,"color":"#111"},{"offset":0.1712,"color":"#fff"},{"offset":0.1728,"color":"#111"},{"offset":0.1744,"color":"#fff"},
        {"offset":0.176,"color":"#111"},{"offset":0.1776,"color":"#fff"},{"offset":0.1792,"color":"#111"},{"offset":0.1808,"color":"#fff"},{"offset":0.1824,"color":"#111"},{"offset":0.184,"color":"#fff"},{"offset":0.1856,"color":"#111"},{"offset":0.1872,"color":"#fff"},{"offset":0.1888,"color":"#111"},{"offset":0.1904,"color":"#fff"},
        {"offset":0.192,"color":"#111"},{"offset":0.1936,"color":"#fff"},{"offset":0.1952,"color":"#111"},{"offset":0.1968,"color":"#fff"},{"offset":0.1984,"color":"#111"},{"offset":0.2,"color":"#fff"},{"offset":0.2016,"color":"#111"},{"offset":0.2032,"color":"#fff"},{"offset":0.2048,"color":"#111"},{"offset":0.2064,"color":"#fff"},
        {"offset":0.208,"color":"#111"},{"offset":0.2096,"color":"#fff"},{"offset":0.2112,"color":"#111"},{"offset":0.2128,"color":"#fff"},{"offset":0.2144,"color":"#111"},{"offset":0.216,"color":"#fff"},{"offset":0.2176,"color":"#111"},{"offset":0.2192,"color":"#fff"},{"offset":0.2208,"color":"#111"},{"offset":0.2224,"color":"#fff"},
        {"offset":0.224,"color":"#111"},{"offset":0.2256,"color":"#fff"},{"offset":0.2272,"color":"#111"},{"offset":0.2288,"color":"#fff"},{"offset":0.2304,"color":"#111"},{"offset":0.232,"color":"#fff"},{"offset":0.2336,"color":"#111"},{"offset":0.2352,"color":"#fff"},{"offset":0.2368,"color":"#111"},{"offset":0.2384,"color":"#fff"},
        {"offset":0.24,"color":"#111"},{"offset":0.2416,"color":"#fff"},{"offset":0.2432,"color":"#111"},{"offset":0.2448,"color":"#fff"},{"offset":0.2464,"color":"#111"},{"offset":0.248,"color":"#fff"},{"offset":0.2496,"color":"#111"},{"offset":0.2512,"color":"#fff"},{"offset":0.2528,"color":"#111"},{"offset":0.2544,"color":"#fff"},
        {"offset":0.256,"color":"#111"},{"offset":0.2576,"color":"#fff"},{"offset":0.2592,"color":"#111"},{"offset":0.2608,"color":"#fff"},{"offset":0.2624,"color":"#111"},{"offset":0.264,"color":"#fff"},{"offset":0.2656,"color":"#111"},{"offset":0.2672,"color":"#fff"},{"offset":0.2688,"color":"#111"},{"offset":0.2704,"color":"#fff"},
        {"offset":0.272,"color":"#111"},{"offset":0.2736,"color":"#fff"},{"offset":0.2752,"color":"#111"},{"offset":0.2768,"color":"#fff"},{"offset":0.2784,"color":"#111"},{"offset":0.28,"color":"#fff"},{"offset":0.2816,"color":"#111"},{"offset":0.2832,"color":"#fff"},{"offset":0.2848,"color":"#111"},{"offset":0.2864,"color":"#fff"},
        {"offset":0.288,"color":"#111"},{"offset":0.2896,"color":"#fff"},{"offset":0.2912,"color":"#111"},{"offset":0.2928,"color":"#fff"},{"offset":0.2944,"color":"#111"},{"offset":0.296,"color":"#fff"},{"offset":0.2976,"color":"#111"},{"offset":0.2992,"color":"#fff"},{"offset":0.3008,"color":"#111"},{"offset":0.3024,"color":"#fff"},
        {"offset":0.304,"color":"#111"},{"offset":0.3056,"color":"#fff"},{"offset":0.3072,"color":"#111"},{"offset":0.3088,"color":"#fff"},{"offset":0.3104,"color":"#111"},{"offset":0.312,"color":"#fff"},{"offset":0.3136,"color":"#111"},{"offset":0.3152,"color":"#fff"},{"offset":0.3168,"color":"#111"},{"offset":0.3184,"color":"#fff"},
        {"offset":0.32,"color":"#111"},{"offset":0.3216,"color":"#fff"},{"offset":0.3232,"color":"#111"},{"offset":0.3248,"color":"#fff"},{"offset":0.3264,"color":"#111"},{"offset":0.328,"color":"#fff"},{"offset":0.3296,"color":"#111"},{"offset":0.3312,"color":"#fff"},{"offset":0.3328,"color":"#111"},{"offset":0.3344,"color":"#fff"},
        {"offset":0.336,"color":"#111"},{"offset":0.3376,"color":"#fff"},{"offset":0.3392,"color":"#111"},{"offset":0.3408,"color":"#fff"},{"offset":0.3424,"color":"#111"},{"offset":0.344,"color":"#fff"},{"offset":0.3456,"color":"#111"},{"offset":0.3472,"color":"#fff"},{"offset":0.3488,"color":"#111"},{"offset":0.3504,"color":"#fff"},
        {"offset":0.352,"color":"#111"},{"offset":0.3536,"color":"#fff"},{"offset":0.3552,"color":"#111"},{"offset":0.3568,"color":"#fff"},{"offset":0.3584,"color":"#111"},{"offset":0.36,"color":"#fff"},{"offset":0.3616,"color":"#111"},{"offset":0.3632,"color":"#fff"},{"offset":0.3648,"color":"#111"},{"offset":0.3664,"color":"#fff"},
        {"offset":0.368,"color":"#111"},{"offset":0.3696,"color":"#fff"},{"offset":0.3712,"color":"#111"},{"offset":0.3728,"color":"#fff"},{"offset":0.3744,"color":"#111"},{"offset":0.376,"color":"#fff"},{"offset":0.3776,"color":"#111"},{"offset":0.3792,"color":"#fff"},{"offset":0.3808,"color":"#111"},{"offset":0.3824,"color":"#fff"},
        {"offset":0.384,"color":"#111"},{"offset":0.3856,"color":"#fff"},{"offset":0.3872,"color":"#111"},{"offset":0.3888,"color":"#fff"},{"offset":0.3904,"color":"#111"},{"offset":0.392,"color":"#fff"},{"offset":0.3936,"color":"#111"},{"offset":0.3952,"color":"#fff"},{"offset":0.3968,"color":"#111"},{"offset":0.3984,"color":"#fff"},
        {"offset":0.4,"color":"#111"},{"offset":0.4016,"color":"#fff"},{"offset":0.4032,"color":"#111"},{"offset":0.4048,"color":"#fff"},{"offset":0.4064,"color":"#111"},{"offset":0.408,"color":"#fff"},{"offset":0.4096,"color":"#111"},{"offset":0.4112,"color":"#fff"},{"offset":0.4128,"color":"#111"},{"offset":0.4144,"color":"#fff"},
        {"offset":0.416,"color":"#111"},{"offset":0.4176,"color":"#fff"},{"offset":0.4192,"color":"#111"},{"offset":0.4208,"color":"#fff"},{"offset":0.4224,"color":"#111"},{"offset":0.424,"color":"#fff"},{"offset":0.4256,"color":"#111"},{"offset":0.4272,"color":"#fff"},{"offset":0.4288,"color":"#111"},{"offset":0.4304,"color":"#fff"},
        {"offset":0.432,"color":"#111"},{"offset":0.4336,"color":"#fff"},{"offset":0.4352,"color":"#111"},{"offset":0.4368,"color":"#fff"},{"offset":0.4384,"color":"#111"},{"offset":0.44,"color":"#fff"},{"offset":0.4416,"color":"#111"},{"offset":0.4432,"color":"#fff"},{"offset":0.4448,"color":"#111"},{"offset":0.4464,"color":"#fff"},
        {"offset":0.448,"color":"#111"},{"offset":0.4496,"color":"#fff"},{"offset":0.4512,"color":"#111"},{"offset":0.4528,"color":"#fff"},{"offset":0.4544,"color":"#111"},{"offset":0.456,"color":"#fff"},{"offset":0.4576,"color":"#111"},{"offset":0.4592,"color":"#fff"},{"offset":0.4608,"color":"#111"},{"offset":0.4624,"color":"#fff"},
        {"offset":0.464,"color":"#111"},{"offset":0.4656,"color":"#fff"},{"offset":0.4672,"color":"#111"},{"offset":0.4688,"color":"#fff"},{"offset":0.4704,"color":"#111"},{"offset":0.472,"color":"#fff"},{"offset":0.4736,"color":"#111"},{"offset":0.4752,"color":"#fff"},{"offset":0.4768,"color":"#111"},{"offset":0.4784,"color":"#fff"},
        {"offset":0.48,"color":"#111"},{"offset":0.4816,"color":"#fff"},{"offset":0.4832,"color":"#111"},{"offset":0.4848,"color":"#fff"},{"offset":0.4864,"color":"#111"},{"offset":0.488,"color":"#fff"},{"offset":0.4896,"color":"#111"},{"offset":0.4912,"color":"#fff"},{"offset":0.4928,"color":"#111"},{"offset":0.4944,"color":"#fff"},
        {"offset":0.496,"color":"#111"},{"offset":0.4976,"color":"#fff"},{"offset":0.4992,"color":"#111"},{"offset":0.5008,"color":"#fff"},{"offset":0.5024,"color":"#111"},{"offset":0.504,"color":"#fff"},{"offset":0.5056,"color":"#111"},{"offset":0.5072,"color":"#fff"},{"offset":0.5088,"color":"#111"},{"offset":0.5104,"color":"#fff"},
        {"offset":0.512,"color":"#111"},{"offset":0.5136,"color":"#fff"},{"offset":0.5152,"color":"#111"},{"offset":0.5168,"color":"#fff"},{"offset":0.5184,"color":"#111"},{"offset":0.52,"color":"#fff"},{"offset":0.5216,"color":"#111"},{"offset":0.5232,"color":"#fff"},{"offset":0.5248,"color":"#111"},{"offset":0.5264,"color":"#fff"},
        {"offset":0.528,"color":"#111"},{"offset":0.5296,"color":"#fff"},{"offset":0.5312,"color":"#111"},{"offset":0.5328,"color":"#fff"},{"offset":0.5344,"color":"#111"},{"offset":0.536,"color":"#fff"},{"offset":0.5376,"color":"#111"},{"offset":0.5392,"color":"#fff"},{"offset":0.5408,"color":"#111"},{"offset":0.5424,"color":"#fff"},
        {"offset":0.544,"color":"#111"},{"offset":0.5456,"color":"#fff"},{"offset":0.5472,"color":"#111"},{"offset":0.5488,"color":"#fff"},{"offset":0.5504,"color":"#111"},{"offset":0.552,"color":"#fff"},{"offset":0.5536,"color":"#111"},{"offset":0.5552,"color":"#fff"},{"offset":0.5568,"color":"#111"},{"offset":0.5584,"color":"#fff"},
        {"offset":0.56,"color":"#111"},{"offset":0.5616,"color":"#fff"},{"offset":0.5632,"color":"#111"},{"offset":0.5648,"color":"#fff"},{"offset":0.5664,"color":"#111"},{"offset":0.568,"color":"#fff"},{"offset":0.5696,"color":"#111"},{"offset":0.5712,"color":"#fff"},{"offset":0.5728,"color":"#111"},{"offset":0.5744,"color":"#fff"},
        {"offset":0.576,"color":"#111"},{"offset":0.5776,"color":"#fff"},{"offset":0.5792,"color":"#111"},{"offset":0.5808,"color":"#fff"},{"offset":0.5824,"color":"#111"},{"offset":0.584,"color":"#fff"},{"offset":0.5856,"color":"#111"},{"offset":0.5872,"color":"#fff"},{"offset":0.5888,"color":"#111"},{"offset":0.5904,"color":"#fff"},
        {"offset":0.592,"color":"#111"},{"offset":0.5936,"color":"#fff"},{"offset":0.5952,"color":"#111"},{"offset":0.5968,"color":"#fff"},{"offset":0.5984,"color":"#111"},{"offset":0.6,"color":"#fff"},{"offset":0.6016,"color":"#111"},{"offset":0.6032,"color":"#fff"},{"offset":0.6048,"color":"#111"},{"offset":0.6064,"color":"#fff"},
        {"offset":0.608,"color":"#111"},{"offset":0.6096,"color":"#fff"},{"offset":0.6112,"color":"#111"},{"offset":0.6128,"color":"#fff"},{"offset":0.6144,"color":"#111"},{"offset":0.616,"color":"#fff"},{"offset":0.6176,"color":"#111"},{"offset":0.6192,"color":"#fff"},{"offset":0.6208,"color":"#111"},{"offset":0.6224,"color":"#fff"},
        {"offset":0.624,"color":"#111"},{"offset":0.6256,"color":"#fff"},{"offset":0.6272,"color":"#111"},{"offset":0.6288,"color":"#fff"},{"offset":0.6304,"color":"#111"},{"offset":0.632,"color":"#fff"},{"offset":0.6336,"color":"#111"},{"offset":0.6352,"color":"#fff"},{"offset":0.6368,"color":"#111"},{"offset":0.6384,"color":"#fff"},
        {"offset":0.64,"color":"#111"},{"offset":0.6416,"color":"#fff"},{"offset":0.6432,"color":"#111"},{"offset":0.6448,"color":"#fff"},{"offset":0.6464,"color":"#111"},{"offset":0.648,"color":"#fff"},{"offset":0.6496,"color":"#111"},{"offset":0.6512,"color":"#fff"},{"offset":0.6528,"color":"#111"},{"offset":0.6544,"color":"#fff"},
        {"offset":0.656,"color":"#111"},{"offset":0.6576,"color":"#fff"},{"offset":0.6592,"color":"#111"},{"offset":0.6608,"color":"#fff"},{"offset":0.6624,"color":"#111"},{"offset":0.664,"color":"#fff"},{"offset":0.6656,"color":"#111"},{"offset":0.6672,"color":"#fff"},{"offset":0.6688,"color":"#111"},{"offset":0.6704,"color":"#fff"},
        {"offset":0.672,"color":"#111"},{"offset":0.6736,"color":"#fff"},{"offset":0.6752,"color":"#111"},{"offset":0.6768,"color":"#fff"},{"offset":0.6784,"color":"#111"},{"offset":0.68,"color":"#fff"},{"offset":0.6816,"color":"#111"},{"offset":0.6832,"color":"#fff"},{"offset":0.6848,"color":"#111"},{"offset":0.6864,"color":"#fff"},
        {"offset":0.688,"color":"#111"},{"offset":0.6896,"color":"#fff"},{"offset":0.6912,"color":"#111"},{"offset":0.6928,"color":"#fff"},{"offset":0.6944,"color":"#111"},{"offset":0.696,"color":"#fff"},{"offset":0.6976,"color":"#111"},{"offset":0.6992,"color":"#fff"},{"offset":0.7008,"color":"#111"},{"offset":0.7024,"color":"#fff"},
        {"offset":0.704,"color":"#111"},{"offset":0.7056,"color":"#fff"},{"offset":0.7072,"color":"#111"},{"offset":0.7088,"color":"#fff"},{"offset":0.7104,"color":"#111"},{"offset":0.712,"color":"#fff"},{"offset":0.7136,"color":"#111"},{"offset":0.7152,"color":"#fff"},{"offset":0.7168,"color":"#111"},{"offset":0.7184,"color":"#fff"},
        {"offset":0.72,"color":"#111"},{"offset":0.7216,"color":"#fff"},{"offset":0.7232,"color":"#111"},{"offset":0.7248,"color":"#fff"},{"offset":0.7264,"color":"#111"},{"offset":0.728,"color":"#fff"},{"offset":0.7296,"color":"#111"},{"offset":0.7312,"color":"#fff"},{"offset":0.7328,"color":"#111"},{"offset":0.7344,"color":"#fff"},
        {"offset":0.736,"color":"#111"},{"offset":0.7376,"color":"#fff"},{"offset":0.7392,"color":"#111"},{"offset":0.7408,"color":"#fff"},{"offset":0.7424,"color":"#111"},{"offset":0.744,"color":"#fff"},{"offset":0.7456,"color":"#111"},{"offset":0.7472,"color":"#fff"},{"offset":0.7488,"color":"#111"},{"offset":0.7504,"color":"#fff"},
        {"offset":0.752,"color":"#111"},{"offset":0.7536,"color":"#fff"},{"offset":0.7552,"color":"#111"},{"offset":0.7568,"color":"#fff"},{"offset":0.7584,"color":"#111"},{"offset":0.76,"color":"#fff"},{"offset":0.7616,"color":"#111"},{"offset":0.7632,"color":"#fff"},{"offset":0.7648,"color":"#111"},{"offset":0.7664,"color":"#fff"},
        {"offset":0.768,"color":"#111"},{"offset":0.7696,"color":"#fff"},{"offset":0.7712,"color":"#111"},{"offset":0.7728,"color":"#fff"},{"offset":0.7744,"color":"#111"},{"offset":0.776,"color":"#fff"},{"offset":0.7776,"color":"#111"},{"offset":0.7792,"color":"#fff"},{"offset":0.7808,"color":"#111"},{"offset":0.7824,"color":"#fff"},
        {"offset":0.784,"color":"#111"},{"offset":0.7856,"color":"#fff"},{"offset":0.7872,"color":"#111"},{"offset":0.7888,"color":"#fff"},{"offset":0.7904,"color":"#111"},{"offset":0.792,"color":"#fff"},{"offset":0.7936,"color":"#111"},{"offset":0.7952,"color":"#fff"},{"offset":0.7968,"color":"#111"},{"offset":0.7984,"color":"#fff"},
        {"offset":0.8,"color":"#111"},{"offset":0.8016,"color":"#fff"},{"offset":0.8032,"color":"#111"},{"offset":0.8048,"color":"#fff"},{"offset":0.8064,"color":"#111"},{"offset":0.808,"color":"#fff"},{"offset":0.8096,"color":"#111"},{"offset":0.8112,"color":"#fff"},{"offset":0.8128,"color":"#111"},{"offset":0.8144,"color":"#fff"},
        {"offset":0.816,"color":"#111"},{"offset":0.8176,"color":"#fff"},{"offset":0.8192,"color":"#111"},{"offset":0.8208,"color":"#fff"},{"offset":0.8224,"color":"#111"},{"offset":0.824,"color":"#fff"},{"offset":0.8256,"color":"#111"},{"offset":0.8272,"color":"#fff"},{"offset":0.8288,"color":"#111"},{"offset":0.8304,"color":"#fff"},
        {"offset":0.832,"color":"#111"},{"offset":0.8336,"color":"#fff"},{"offset":0.8352,"color":"#111"},{"offset":0.8368,"color":"#fff"},{"offset":0.8384,"color":"#111"},{"offset":0.84,"color":"#fff"},{"offset":0.8416,"color":"#111"},{"offset":0.8432,"color":"#fff"},{"offset":0.8448,"color":"#111"},{"offset":0.8464,"color":"#fff"},
        {"offset":0.848,"color":"#111"},{"offset":0.8496,"color":"#fff"},{"offset":0.8512,"color":"#111"},{"offset":0.8528,"color":"#fff"},{"offset":0.8544,"color":"#111"},{"offset":0.856,"color":"#fff"},{"offset":0.8576,"color":"#111"},{"offset":0.8592,"color":"#fff"},{"offset":0.8608,"color":"#111"},{"offset":0.8624,"color":"#fff"},
        {"offset":0.864,"color":"#111"},{"offset":0.8656,"color":"#fff"},{"offset":0.8672,"color":"#111"},{"offset":0.8688,"color":"#fff"},{"offset":0.8704,"color":"#111"},{"offset":0.872,"color":"#fff"},{"offset":0.8736,"color":"#111"},{"offset":0.8752,"color":"#fff"},{"offset":0.8768,"color":"#111"},{"offset":0.8784,"color":"#fff"},
        {"offset":0.88,"color":"#111"},{"offset":0.8816,"color":"#fff"},{"offset":0.8832,"color":"#111"},{"offset":0.8848,"color":"#fff"},{"offset":0.8864,"color":"#111"},{"offset":0.888,"color":"#fff"},{"offset":0.8896,"color":"#111"},{"offset":0.8912,"color":"#fff"},{"offset":0.8928,"color":"#111"},{"offset":0.8944,"color":"#fff"},
        {"offset":0.896,"color":"#111"},{"offset":0.8976,"color":"#fff"},{"offset":0.8992,"color":"#111"},{"offset":0.9008,"color":"#fff"},{"offset":0.9024,"color":"#111"},{"offset":0.904,"color":"#fff"},{"offset":0.9056,"color":"#111"},{"offset":0.9072,"color":"#fff"},{"offset":0.9088,"color":"#111"},{"offset":0.9104,"color":"#fff"},
        {"offset":0.912,"color":"#111"},{"offset":0.9136,"color":"#fff"},{"offset":0.9152,"color":"#111"},{"offset":0.9168,"color":"#fff"},{"offset":0.9184,"color":"#111"},{"offset":0.92,"color":"#fff"},{"offset":0.9216,"color":"#111"},{"offset":0.9232,"color":"#fff"},{"offset":0.9248,"color":"#111"},{"offset":0.9264,"color":"#fff"},
        {"offset":0.928,"color":"#111"},{"offset":0.9296,"color":"#fff"},{"offset":0.9312,"color":"#111"},{"offset":0.9328,"color":"#fff"},{"offset":0.9344,"color":"#111"},{"offset":0.936,"color":"#fff"},{"offset":0.9376,"color":"#111"},{"offset":0.9392,"color":"#fff"},{"offset":0.9408,"color":"#111"},{"offset":0.9424,"color":"#fff"},
        {"offset":0.944,"color":"#111"},{"offset":0.9456,"color":"#fff"},{"offset":0.9472,"color":"#111"},{"offset":0.9488,"color":"#fff"},{"offset":0.9504,"color":"#111"},{"offset":0.952,"color":"#fff"},{"offset":0.9536,"color":"#111"},{"offset":0.9552,"color":"#fff"},{"offset":0.9568,"color":"#111"},{"offset":0.9584,"color":"#fff"},
        {"offset":0.96,"color":"#111"},{"offset":0.9616,"color":"#fff"},{"offset":0.9632,"color":"#111"},{"offset":0.9648,"color":"#fff"},{"offset":0.9664,"color":"#111"},{"offset":0.968,"color":"#fff"},{"offset":0.9696,"color":"#111"},{"offset":0.9712,"color":"#fff"},{"offset":0.9728,"color":"#111"},{"offset":0.9744,"color":"#fff"},
        {"offset":0.976,"color":"#111"},{"offset":0.9776,"color":"#fff"},{"offset":0.9792,"color":"#111"},{"offset":0.9808,"color":"#fff"}
      ]}}
    },
    {
      "mark": {"type": "rule", "color": "black", "strokeWidth": 1, "yOffset": 0.5},
      "encoding": {
        "x": {"datum": 0},
        "x2": {"datum": 200},
        "y": {"value": "height"}
      }
    }
  ],
  "config": {
    "view": {"stroke": null}
  }
}
